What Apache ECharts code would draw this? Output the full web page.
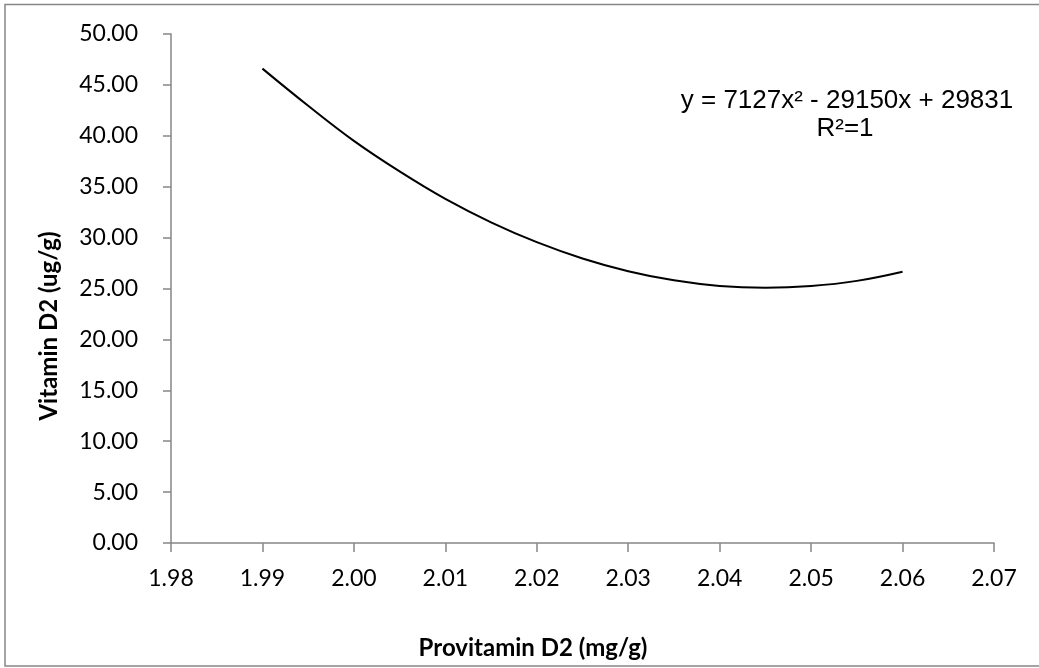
<!DOCTYPE html>
<html>
<head>
<meta charset="utf-8">
<script src="https://cdn.jsdelivr.net/npm/echarts@6/dist/echarts.min.js"></script>
<style>
html,body{margin:0;padding:0;background:#fff;}
#chart{width:1039px;height:668px;}
</style>
</head>
<body>
<div id="chart"></div>
<script>
// Values
var xValues = [1.990, 1.995, 2.000, 2.005, 2.010, 2.015, 2.020, 2.025, 2.030, 2.035, 2.040, 2.045, 2.050, 2.055, 2.060];
var yValues = [46.60, 42.95, 39.50, 36.50, 33.80, 31.50, 29.55, 27.95, 26.70, 25.80, 25.25, 25.08, 25.25, 25.75, 26.65];
var xTickLabels = ['1.98','1.99','2.00','2.01','2.02','2.03','2.04','2.05','2.06','2.07'];
var yTickLabels = ['0.00','5.00','10.00','15.00','20.00','25.00','30.00','35.00','40.00','45.00','50.00'];
var xTitle = 'Provitamin D2 (mg/g)';
var yTitle = 'Vitamin D2 (ug/g)';
var equationLine = 'y = 7127x\u00B2 - 29150x + 29831';
var r2Line = 'R\u00B2=1';

var points = xValues.map(function (x, i) { return [x, yValues[i]]; });
var axisColor = '#868686';
var labelFont = 'Lato';

var chart = echarts.init(document.getElementById('chart'), null, {renderer: 'canvas'});
chart.setOption({
  backgroundColor: '#ffffff',
  animation: false,
  grid: {left: 171, right: 45, top: 34, bottom: 125, containLabel: false},
  xAxis: {
    type: 'value', min: 1.98, max: 2.07, interval: 0.01,
    axisLine: {show: true, lineStyle: {color: axisColor, width: 1.5}},
    axisTick: {show: true, inside: false, length: 9, lineStyle: {color: axisColor, width: 1.5}},
    splitLine: {show: false},
    axisLabel: {
      margin: 24, color: '#000', fontFamily: labelFont, fontSize: 23,
      formatter: function (v) { return xTickLabels[Math.round((v - 1.98) * 100)]; }
    }
  },
  yAxis: {
    type: 'value', min: 0, max: 50, interval: 5,
    axisLine: {show: true, lineStyle: {color: axisColor, width: 1.5}},
    axisTick: {show: true, inside: false, length: 8, lineStyle: {color: axisColor, width: 1.5}},
    splitLine: {show: false},
    axisLabel: {
      margin: 33, color: '#000', fontFamily: labelFont, fontSize: 23,
      formatter: function (v) { return yTickLabels[Math.round(v / 5)]; }
    }
  },
  series: [{
    type: 'line', data: points, smooth: 0.4, showSymbol: false,
    lineStyle: {color: '#000', width: 2}
  }],
  graphic: [
    {type: 'rect', shape: {x: 5, y: 4.5, width: 1040, height: 661.5},
     style: {fill: null, stroke: '#868686', lineWidth: 1.5}, silent: true},
    {type: 'text', x: 533, y: 648,
     style: {text: xTitle, font: 'bold 24px Lato', fill: '#000', align: 'center', verticalAlign: 'middle'}},
    {type: 'text', x: 49, y: 326, rotation: Math.PI / 2,
     style: {text: yTitle, font: 'bold 24px Lato', fill: '#000', align: 'center', verticalAlign: 'middle'}},
    {type: 'text', x: 847, y: 101,
     style: {text: equationLine, font: '26px "Liberation Sans"', fill: '#000', align: 'center', verticalAlign: 'middle'}},
    {type: 'text', x: 845, y: 129,
     style: {text: r2Line, font: '26px "Liberation Sans"', fill: '#000', align: 'center', verticalAlign: 'middle'}}
  ]
});
</script>
</body>
</html>
